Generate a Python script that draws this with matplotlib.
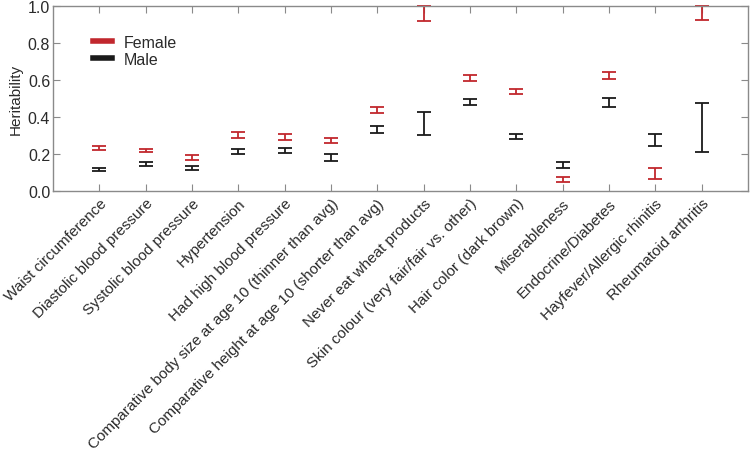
import matplotlib
matplotlib.use("Agg")
import matplotlib.pyplot as plt
import numpy as np
from matplotlib.lines import Line2D

categories = [
    "Waist circumference",
    "Diastolic blood pressure",
    "Systolic blood pressure",
    "Hypertension",
    "Had high blood pressure",
    "Comparative body size at age 10 (thinner than avg)",
    "Comparative height at age 10 (shorter than avg)",
    "Never eat wheat products",
    "Skin colour (very fair/fair vs. other)",
    "Hair color (dark brown)",
    "Miserableness",
    "Endocrine/Diabetes",
    "Hayfever/Allergic rhinitis",
    "Rheumatoid arthritis",
]
female_low = [0.223, 0.211, 0.169, 0.285, 0.277, 0.259, 0.422, 0.919, 0.595, 0.523, 0.050, 0.604, 0.065, 0.924]
female_high = [0.242, 0.229, 0.193, 0.317, 0.306, 0.288, 0.452, 1.000, 0.625, 0.551, 0.077, 0.645, 0.126, 1.000]
male_low = [0.108, 0.137, 0.112, 0.200, 0.204, 0.164, 0.315, 0.304, 0.463, 0.281, 0.124, 0.452, 0.243, 0.209]
male_high = [0.126, 0.155, 0.135, 0.229, 0.232, 0.198, 0.351, 0.425, 0.499, 0.308, 0.155, 0.503, 0.308, 0.474]

RED = "#c1272d"
BLACK = "#1a1a1a"
TXT = "#2a2a2a"
SPINE = "#8a8a8a"

plt.rcParams['font.family'] = ['Liberation Sans', 'DejaVu Sans']

fig = plt.figure(figsize=(7.5, 4.52), dpi=100)
ax = fig.add_axes([53/750, 1 - 192/452, (748-53)/750, (192-7)/452])

x = np.arange(1, len(categories) + 1)

def draw(low, high, color):
    low = np.array(low); high = np.array(high)
    mid = (low + high) / 2
    err = (high - low) / 2
    ax.errorbar(x, mid, yerr=err, fmt='none', ecolor=color, elinewidth=1.3,
                capsize=5, capthick=1.3, clip_on=False)

draw(female_low, female_high, RED)
draw(male_low, male_high, BLACK)

ax.set_xlim(0, 15)
ax.set_ylim(0, 1.0)
ax.set_xticks(x)
ax.set_xticklabels(categories, rotation=45, ha='right', rotation_mode='anchor', fontsize=11, color=TXT)
ax.set_yticks([0, 0.2, 0.4, 0.6, 0.8, 1.0])
ax.set_yticklabels(["0.0", "0.2", "0.4", "0.6", "0.8", "1.0"], fontsize=11.5, color=TXT)
ax.set_ylabel("Heritability", fontsize=11, color=TXT, labelpad=4)

for s in ax.spines.values():
    s.set_color(SPINE)
    s.set_linewidth(1.0)

ax.tick_params(axis='x', direction='in', top=True, bottom=True, length=5, color=SPINE, pad=3.5)
ax.tick_params(axis='y', direction='in', left=True, right=True, length=5, color=SPINE, pad=2)

handles = [Line2D([0], [0], color=RED, lw=4), Line2D([0], [0], color=BLACK, lw=4)]
leg = ax.legend(handles, ["Female", "Male"], loc='upper left', bbox_to_anchor=(0.048, 0.88),
                frameon=False, fontsize=11.5, handlelength=1.2, handletextpad=0.75,
                labelspacing=0.15, borderaxespad=0)
for t in leg.get_texts():
    t.set_color(TXT)

fig.savefig("out.png", dpi=100)
